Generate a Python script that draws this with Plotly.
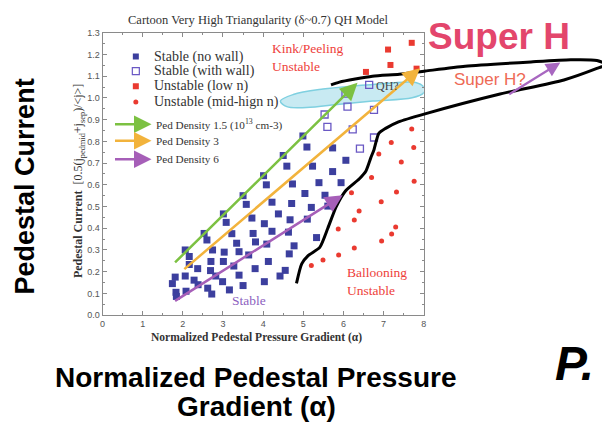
import plotly.graph_objects as go

# ---------------- data ----------------
# Stable points, no wall (filled squares)
stable_nowall_x = [1.74, 1.81, 1.83, 1.84, 2.06, 2.08, 2.06, 2.16, 2.16, 2.28, 2.37, 2.38,
                   2.53, 2.60, 2.62, 2.74, 2.70, 2.69, 2.72, 2.82, 3.01, 3.08, 3.03, 3.01,
                   2.99, 3.22, 3.27, 3.16, 3.34, 3.40, 3.40, 3.50, 3.58, 3.50, 3.72, 3.75,
                   3.81, 3.64, 3.80, 4.50, 4.59, 4.01, 4.08, 4.22, 4.71, 4.73, 5.23, 5.39,
                   5.04, 5.54, 5.73, 5.94, 6.06, 5.20, 5.61, 4.03, 4.38, 4.67, 5.10, 4.22,
                   4.63, 4.09, 4.77, 5.33, 4.13, 4.65, 4.55, 4.42, 4.03, 4.99, 5.09, 5.73]
stable_nowall_y = [0.145, 0.175, 0.105, 0.086, 0.180, 0.110, 0.300, 0.270, 0.233, 0.161, 0.214, 0.140,
                   0.376, 0.346, 0.124, 0.300, 0.247, 0.205, 0.097, 0.180, 0.466, 0.427, 0.290, 0.247,
                   0.154, 0.375, 0.226, 0.116, 0.331, 0.292, 0.184, 0.550, 0.510, 0.136, 0.447, 0.376,
                   0.337, 0.277, 0.214, 0.735, 0.686, 0.642, 0.600, 0.520, 0.514, 0.604, 0.686, 0.610,
                   0.560, 0.552, 0.661, 0.610, 0.713, 0.496, 0.502, 0.421, 0.466, 0.439, 0.442, 0.386,
                   0.382, 0.327, 0.319, 0.357, 0.247, 0.282, 0.206, 0.180, 0.154, 0.825, 0.774, 0.770]

# Stable points, with wall (open squares)
stable_wall_x = [6.05, 6.64, 6.10, 5.53, 5.60, 6.23, 6.76, 6.76, 6.41]
stable_wall_y = [1.020, 1.060, 0.960, 0.924, 0.867, 0.855, 0.945, 0.818, 0.767]

# Unstable, low n (red squares)
unstable_low_x = [7.11, 7.70, 7.17, 6.56, 7.82]
unstable_low_y = [1.223, 1.254, 1.152, 1.120, 1.135]

# Unstable, mid-high n (red dots)
unstable_mid_x = [7.70, 7.75, 7.19, 7.44, 6.88, 6.70, 7.76, 7.32, 6.20, 6.94, 6.39, 6.27,
                  8.02, 7.30, 7.20, 5.87, 6.95, 6.27, 5.88, 5.49, 5.20]
unstable_mid_y = [0.857, 0.772, 0.795, 0.705, 0.742, 0.634, 0.616, 0.567, 0.564, 0.522, 0.480, 0.438,
                  0.439, 0.406, 0.373, 0.397, 0.341, 0.309, 0.277, 0.254, 0.229]

# Stability boundary (ballooning edge, then kink/peeling edge folding back)
boundary_x = [4.83, 4.96, 5.12, 5.41, 5.61, 5.82, 6.06, 6.39, 6.56, 6.68, 6.76, 6.88, 7.05,
              7.37, 8.03, 9.85, 11.49, 12.31, 12.55, 12.31, 11.66, 10.67, 9.03, 8.04, 7.39,
              6.72, 5.90, 5.69]
boundary_y = [0.146, 0.236, 0.274, 0.312, 0.400, 0.500, 0.574, 0.627, 0.664, 0.724, 0.762, 0.837, 0.860,
              0.890, 0.927, 1.016, 1.083, 1.136, 1.155, 1.173, 1.176, 1.166, 1.146, 1.124, 1.109,
              1.100, 1.073, 1.060]

# QH operating region outline
qh_region_x = [4.43, 4.75, 5.49, 6.32, 7.14, 7.80, 8.02, 8.00, 7.71, 6.73, 5.90, 5.08, 4.59, 4.43]
qh_region_y = [0.986, 1.016, 1.041, 1.056, 1.068, 1.071, 1.045, 1.024, 1.001, 0.986, 0.971, 0.956, 0.960, 0.986]

# Pedestal density trajectories (start -> end)
density_labels = ["Ped Density 1.5 (10<sup>13</sup> cm-3)", "Ped Density 3", "Ped Density 6"]
density_colors = ["#7cc142", "#f2b33c", "#a65fb8"]
density_x0 = [1.77, 2.00, 1.77]
density_y0 = [0.236, 0.206, 0.061]
density_x1 = [6.35, 7.91, 5.98]
density_y1 = [1.070, 1.137, 0.552]

# Super H trajectory
superh_x0, superh_y0 = 10.09, 1.013
superh_x1, superh_y1 = 11.40, 1.163

legend_labels = ["Stable (no wall)", "Stable (with wall)", "Unstable (low n)", "Unstable (mid-hign n)"]

# ---------------- layout geometry ----------------
W, H = 605, 429
X0_PX, X8_PX = 100.5, 425.0
Y0_PX, Y13_PX = 317.5, 28.5
SX = (X8_PX - X0_PX) / 8.0
SY = (Y0_PX - Y13_PX) / 1.3

SERIF = "Liberation Serif, Times New Roman, serif"
SANS = "Liberation Sans, Arial, sans-serif"

BLUE = "#3c3f9e"
WALL = "#6a58c4"
RED = "#ea3a30"


def px(x, y):
    """Paper coordinates for a pixel position on the canvas."""
    return x / W, 1 - y / H


fig = go.Figure()

# QH region (behind everything on the main axes)
fig.add_trace(go.Scatter(
    x=qh_region_x, y=qh_region_y, mode="lines", fill="toself",
    line=dict(color="#7fd0e0", width=1.5, shape="spline", smoothing=1.0),
    fillcolor="rgba(190,230,240,0.85)", hoverinfo="skip", showlegend=False))

fig.add_trace(go.Scatter(
    x=stable_nowall_x, y=stable_nowall_y, mode="markers", cliponaxis=False,
    marker=dict(symbol="square", size=7, color=BLUE), showlegend=False))
fig.add_trace(go.Scatter(
    x=stable_wall_x, y=stable_wall_y, mode="markers", cliponaxis=False,
    marker=dict(symbol="square-open", size=7, color=WALL, line=dict(width=1.3)), showlegend=False))
fig.add_trace(go.Scatter(
    x=unstable_low_x, y=unstable_low_y, mode="markers", cliponaxis=False,
    marker=dict(symbol="square", size=6, color=RED), showlegend=False))
fig.add_trace(go.Scatter(
    x=unstable_mid_x, y=unstable_mid_y, mode="markers", cliponaxis=False,
    marker=dict(symbol="circle", size=5, color=RED), showlegend=False))

# Inline legend glyphs
leg_x = 0.83
leg_y = [1.191, 1.124, 1.054, 0.982]
leg_sym = [dict(symbol="square", size=6, color=BLUE),
           dict(symbol="square-open", size=7, color=WALL, line=dict(width=1.2)),
           dict(symbol="square", size=6, color=RED),
           dict(symbol="circle", size=5, color=RED)]
for yy, sym in zip(leg_y, leg_sym):
    fig.add_trace(go.Scatter(x=[leg_x], y=[yy], mode="markers", marker=sym,
                             showlegend=False, hoverinfo="skip"))

# Boundary curve on a full-canvas overlay axis with the same scale
fig.add_trace(go.Scatter(
    x=boundary_x, y=boundary_y, mode="lines", xaxis="x2", yaxis="y2",
    line=dict(color="black", width=3, shape="spline", smoothing=0.6),
    showlegend=False, hoverinfo="skip"))

annotations = []

# density trajectory arrows
for x0, y0, x1, y1, c in zip(density_x0, density_y0, density_x1, density_y1, density_colors):
    annotations.append(dict(x=x1, y=y1, ax=x0, ay=y0, xref="x", yref="y", axref="x", ayref="y",
                            text="", showarrow=True, arrowhead=2, arrowsize=1.4,
                            arrowwidth=2.5, arrowcolor=c))
# Super H arrow
annotations.append(dict(x=superh_x1, y=superh_y1, ax=superh_x0, ay=superh_y0,
                        xref="x2", yref="y2", axref="x2", ayref="y2",
                        text="", showarrow=True, arrowhead=2, arrowsize=1.3,
                        arrowwidth=2.2, arrowcolor="#a867c0"))

# legend texts
for yy, lab in zip(leg_y, legend_labels):
    annotations.append(dict(x=1.22, y=yy, xref="x", yref="y", text=lab, showarrow=False,
                            xanchor="left", yanchor="middle",
                            font=dict(family=SERIF, size=14, color="#333333")))
leg_arrow_y = [0.879, 0.803, 0.718]
for yy, lab, c in zip(leg_arrow_y, density_labels, density_colors):
    annotations.append(dict(x=1.22, y=yy, xref="x", yref="y", ax=-38, ay=0, text="",
                            showarrow=True, arrowhead=2, arrowsize=1.4, arrowwidth=2.5,
                            arrowcolor=c))
    annotations.append(dict(x=1.28, y=yy, xref="x", yref="y", text=lab, showarrow=False,
                            xanchor="left", yanchor="middle",
                            font=dict(family=SERIF, size=11.2, color="#333333")))

# region labels
annotations += [
    dict(x=4.18, y=1.187, xref="x", yref="y", text="Kink/Peeling<br>Unstable", showarrow=False,
         xanchor="left", yanchor="middle", align="left",
         font=dict(family=SERIF, size=13.5, color="#ee3e3a")),
    dict(x=6.05, y=0.153, xref="x", yref="y", text="Ballooning<br>Unstable", showarrow=False,
         xanchor="left", yanchor="middle", align="left",
         font=dict(family=SERIF, size=13.5, color="#ee3e3a")),
    dict(x=3.66, y=0.065, xref="x", yref="y", text="Stable", showarrow=False,
         xanchor="center", yanchor="middle",
         font=dict(family=SERIF, size=13.5, color="#8d5fc0")),
    dict(x=6.77, y=1.055, xref="x", yref="y", text="QH?", showarrow=False,
         xanchor="left", yanchor="middle",
         font=dict(family=SERIF, size=12, color="#444444")),
]


def label(x, y, text, font, angle=0, xanchor="center"):
    px_x, px_y = px(x, y)
    return dict(x=px_x, y=px_y, xref="paper", yref="paper", showarrow=False,
                xanchor=xanchor, yanchor="middle", textangle=angle, text=text, font=font)


# inner title and axis titles
annotations += [
    label(258, 15, "Cartoon Very High Triangularity (δ~0.7) QH Model",
          dict(family=SERIF, size=12.5, color="#333333")),
    label(256, 340, "<b>Normalized Pedestal Pressure Gradient (α)</b>",
          dict(family=SERIF, size=11.5, color="#333333")),
    label(77, 180, "<b>Pedestal Current</b>  [0.5(j<sub>pedmid</sub>+j<sub>sep</sub>)/&lt;j&gt;]",
          dict(family=SERIF, size=12, color="#333333"), angle=-90),
]

# slide-level labels
annotations += [
    label(501, 32, "<b>Super H</b>", dict(family=SANS, size=37, color="#e3466c")),
    label(492, 76, "Super H?", dict(family=SANS, size=17, color="#ee6a55")),
    label(22, 186, "<b>Pedestal Current</b>", dict(family=SANS, size=27, color="black"), angle=-90),
    label(256, 381, "<b>Normalized Pedestal Pressure</b>", dict(family=SANS, size=28, color="black")),
    label(256, 411, "<b>Gradient (α)</b>", dict(family=SANS, size=28, color="black")),
    label(556, 367, "<b><i>P.</i></b>", dict(family=SANS, size=48, color="black"), xanchor="left"),
]

axis_common = dict(showline=True, linecolor="#8a8a8a", linewidth=1, mirror="ticks",
                   ticks="inside", ticklen=4, tickcolor="#8a8a8a", showgrid=False,
                   zeroline=False, tickfont=dict(family=SANS, size=9, color="#555555"))

fig.update_layout(
    width=W, height=H, margin=dict(l=0, r=0, t=0, b=0),
    paper_bgcolor="white", plot_bgcolor="rgba(0,0,0,0)",
    showlegend=False,
    xaxis=dict(domain=[X0_PX / W, X8_PX / W], range=[0, 8], tickvals=list(range(9)),
               minor=dict(dtick=0.5, ticks="inside", ticklen=2, tickcolor="#8a8a8a"),
               **axis_common),
    yaxis=dict(domain=[1 - Y0_PX / H, 1 - Y13_PX / H], range=[0, 1.3], dtick=0.1,
               tickformat=".1f",
               minor=dict(dtick=0.05, ticks="inside", ticklen=2, tickcolor="#8a8a8a"),
               **axis_common),
    xaxis2=dict(domain=[0, 1], anchor="y2", visible=False,
                range=[-X0_PX / SX, (W - X0_PX) / SX]),
    yaxis2=dict(domain=[0, 1], anchor="x2", visible=False,
                range=[-(H - Y0_PX) / SY, Y0_PX / SY]),
    annotations=annotations,
)

fig.write_html("out.html")
